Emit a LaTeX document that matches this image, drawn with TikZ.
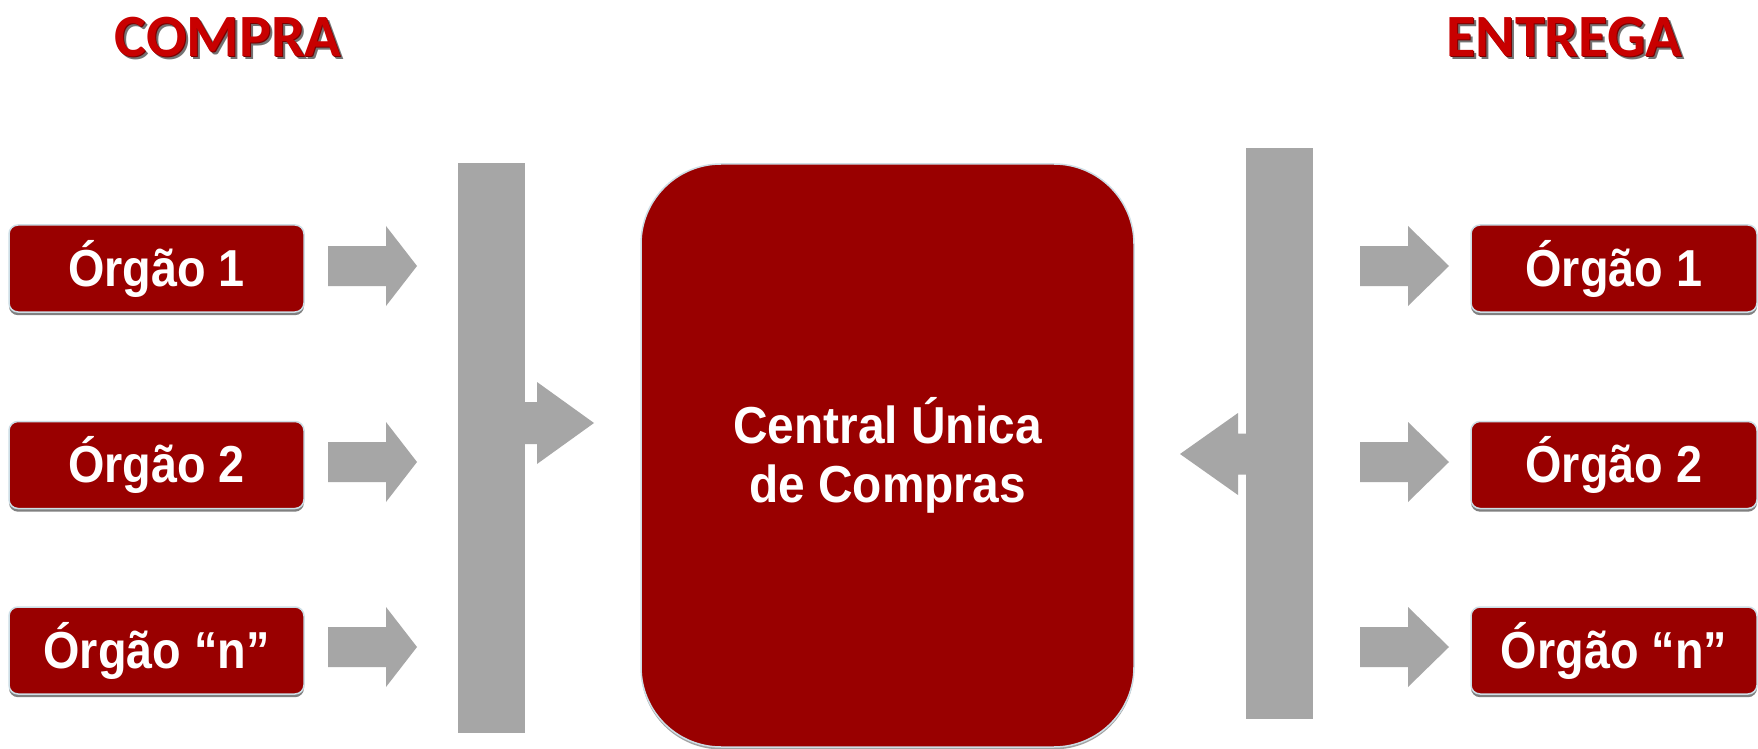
\documentclass[tikz,border=0pt]{standalone}
\usepackage{fontspec}
\setmainfont{Liberation Sans}
\newfontfamily\boxfont[FakeStretch=0.9]{Liberation Sans}
\newfontfamily\centfont[FakeStretch=0.92]{Liberation Sans}
\newfontfamily\titlefont{Carlito}
\usetikzlibrary{shadows}
\definecolor{darkred}{RGB}{153,0,0}
\definecolor{titlered}{RGB}{200,0,0}
\definecolor{titleedge}{RGB}{120,0,0}
\definecolor{arrgray}{RGB}{166,166,166}
\definecolor{edgeblue}{RGB}{205,222,230}
\newcommand{\BlockArr}[6]{% x-start, x-headbase, x-tip, y-centre, shaft half, head half
  \fill[arrgray] ({#1},{#4-#5}) -- ({#2},{#4-#5}) -- ({#2},{#4-#6}) -- ({#3},{#4})
    -- ({#2},{#4+#6}) -- ({#2},{#4+#5}) -- ({#1},{#4+#5}) -- cycle;}
\tikzset{
  organ/.style={draw=edgeblue, line width=0.75pt, fill=darkred, rounded corners=4.5pt,
    minimum height=43.5pt, inner sep=0pt, text=white,
    font=\boxfont\bfseries\fontsize{26}{30}\selectfont,
    drop shadow={shadow xshift=0pt, shadow yshift=-1.6pt, fill=black!55, opacity=0.9}},
  central/.style={draw=edgeblue, line width=0.75pt, fill=darkred, rounded corners=40pt,
    minimum width=246.5pt, minimum height=291.5pt, inner sep=0pt, text=white, align=center,
    font=\centfont\bfseries\fontsize{26}{29.5}\selectfont,
    drop shadow={shadow xshift=0pt, shadow yshift=-1.2pt, fill=black!45, opacity=0.8}},
  bar/.style={fill=arrgray, draw=none},
  title/.style={text=titlered, font=\titlefont\bfseries\fontsize{30}{34}\selectfont, inner sep=0pt},
  titleedge/.style={text=titleedge, font=\titlefont\bfseries\fontsize{30}{34}\selectfont, inner sep=0pt},
  titleshadow/.style={text=black!55, font=\titlefont\bfseries\fontsize{30}{34}\selectfont, inner sep=0pt}
}
\begin{document}
\begin{tikzpicture}[x=0.5pt, y=-0.5pt]
\useasboundingbox (0,0) rectangle (1758,749);
\fill[white] (0,0) rectangle (1758,749);

% titles
\node[titleshadow] at (231,40) {COMPRA};
\node[titleedge] at (229,38) {COMPRA};
\node[title] (compra) at (228,37) {COMPRA};
\node[titleshadow] at (1567,40) {ENTREGA};
\node[titleedge] at (1565,38) {ENTREGA};
\node[title] (entrega) at (1564,37) {ENTREGA};

% left boxes
\node[organ, minimum width=147.5pt] (l1) at (156.5,268.5) {Órgão 1};
\node[organ, minimum width=147.5pt] (l2) at (156.5,465) {Órgão 2};
\node[organ, minimum width=147.5pt] (ln) at (156.5,650.5) {Órgão “n”};

% right boxes
\node[organ, minimum width=143pt] (r1) at (1614,268.5) {Órgão 1};
\node[organ, minimum width=143pt] (r2) at (1614,465) {Órgão 2};
\node[organ, minimum width=143pt] (rn) at (1614,650.5) {Órgão “n”};

% central box
\node[central] (cuc) at (887.5,455.5) {Central Única\\de Compras};

% left arrows
\BlockArr{328}{386}{417}{266}{20}{40}
\BlockArr{328}{386}{417}{462}{20}{40}
\BlockArr{328}{386}{417}{647}{20}{40}
% middle arrow into central box
\BlockArr{500}{537}{594}{423}{21}{41}
% left bar
\fill[bar] (458,163) rectangle (525,733);
\coordinate (lbar) at (491.5,448);

% middle arrow from right bar to central box
\BlockArr{1280}{1238}{1180}{454}{20.5}{41}
% right bar
\fill[bar] (1246,148) rectangle (1313,719);
\coordinate (rbar) at (1279.5,433.5);

% right arrows
\BlockArr{1360}{1408}{1449}{266}{20}{40}
\BlockArr{1360}{1408}{1449}{462}{20}{40}
\BlockArr{1360}{1408}{1449}{647}{20}{40}
\end{tikzpicture}
\end{document}
